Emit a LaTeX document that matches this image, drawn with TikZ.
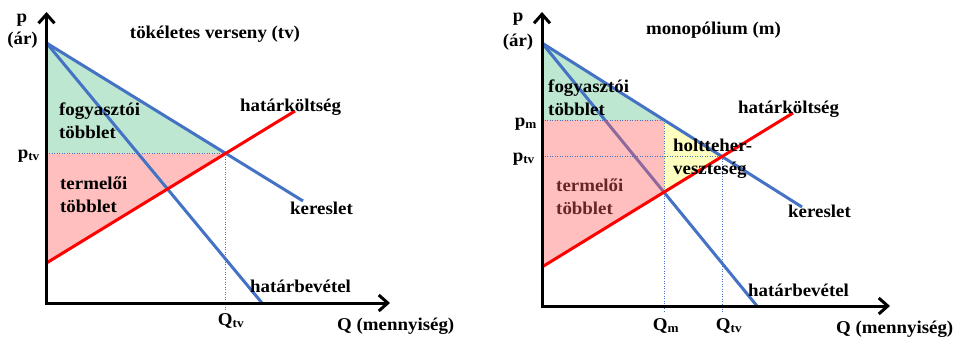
\documentclass[tikz,border=0pt]{standalone}
\usepackage{fontspec}
\setmainfont{Liberation Serif}[FakeStretch=1.05]
\usetikzlibrary{arrows.meta}
\definecolor{lblue}{HTML}{4472C4}
\definecolor{lred}{HTML}{FF0000}
\definecolor{cgreen}{HTML}{BDE7D0}
\definecolor{cpink}{HTML}{FFBFBF}
\definecolor{cpinkbase}{HTML}{FF6060}
\definecolor{cyellow}{HTML}{FFFFC0}
\begin{document}
\begin{tikzpicture}[x=1pt,y=-1pt,
  lbl/.style={font=\bfseries\fontsize{18}{21}\selectfont, inner sep=0pt, anchor=base west},
  lblc/.style={lbl, anchor=base},
  lble/.style={lbl, anchor=base east},
  axis/.style={line width=3pt, line join=miter, {Straight Barb[length=9pt,width=16pt]}-{Straight Barb[length=9pt,width=16pt]}},
  curveb/.style={lblue, line width=3pt},
  curver/.style={lred, line width=3pt},
  dotl/.style={lblue, line width=1pt, dash pattern=on 1pt off 1.5pt}]
\useasboundingbox (0,0) rectangle (957,337);
% ---------- left: perfect competition ----------
\coordinate (O1) at (46.5,303);
\coordinate (Y1) at (46.5,12);
\coordinate (X1) at (390,303);
\coordinate (D1a) at (46.5,43);
\coordinate (D1b) at (303,201);
\coordinate (MR1b) at (262,303);
\coordinate (MC1a) at (46.5,263);
\coordinate (MC1b) at (295,111);
\coordinate (E1) at (225.7,153.4);
\coordinate (P1) at (46.5,153.4);
\coordinate (Q1) at (225.7,310);
\fill[cgreen] (D1a) -- (E1) -- (P1) -- cycle;
\fill[cpink] (P1) -- (E1) -- (MC1a) -- cycle;
\draw[dotl] (P1) -- (E1) -- (Q1);
\draw[curveb] (D1a) -- (D1b);
\draw[curveb] (D1a) -- (MR1b);
\draw[curver] (MC1a) -- (MC1b);
\draw[axis] (Y1) -- (O1) -- (X1);
\node[lblc] (lp1) at (22,23) {p};
\node[lblc] (lar1) at (22.5,45) {(ár)};
\node[lblc] (t1) at (215,39) {tökéletes verseny (tv)};
\node[lbl] (fo1) at (59,115.5) {fogyasztói};
\node[lbl] (fo1b) at (59,138) {többlet};
\node[lbl] (te1) at (60,189) {termelői};
\node[lbl] (te1b) at (60,212) {többlet};
\node[lbl] (mc1) at (240,111) {határköltség};
\node[lbl] (ke1) at (290,214) {kereslet};
\node[lbl] (mr1) at (250,292) {határbevétel};
\node[lble] (ptv1) at (40,158) {p\textsubscript{tv}};
\node[lblc] (qtv1) at (231,325) {Q\textsubscript{tv}};
\node[lbl] (qq1) at (337,330) {Q (mennyiség)};
% ---------- right: monopoly ----------
\coordinate (O2) at (542,306);
\coordinate (Y2) at (542,12);
\coordinate (X2) at (890,306);
\coordinate (D2a) at (542,43);
\coordinate (D2b) at (802,207);
\coordinate (MR2b) at (757,306);
\coordinate (MC2a) at (542,267);
\coordinate (MC2b) at (793,113);
\coordinate (M2) at (664,120);
\coordinate (Mmc) at (664,192);
\coordinate (E2) at (722,156);
\coordinate (Pm2) at (542,120);
\coordinate (Pt2) at (542,156);
\coordinate (Qm2) at (664,312);
\coordinate (Qt2) at (722,312);
\fill[cgreen] (D2a) -- (M2) -- (Pm2) -- cycle;
\fill[cyellow] (M2) -- (E2) -- (Mmc) -- cycle;
\node[lbl] (te2) at (556,191) {termelői};
\node[lbl] (te2b) at (556,214) {többlet};
\draw[curveb] (D2a) -- (MR2b);
\fill[cpinkbase, opacity=0.4] (Pm2) -- (M2) -- (Mmc) -- (MC2a) -- cycle;
\draw[dotl] (Pm2) -- (M2) -- (Qm2);
\draw[dotl] (Pt2) -- (E2) -- (Qt2);
\draw[curveb] (D2a) -- (D2b);
\draw[curver] (MC2a) -- (MC2b);
\draw[axis] (Y2) -- (O2) -- (X2);
\node[lblc] (lp2) at (518,22) {p};
\node[lblc] (lar2) at (518,46) {(ár)};
\node[lblc] (t2) at (713.5,35) {monopólium (m)};
\node[lbl] (fo2) at (548,92) {fogyasztói};
\node[lbl] (fo2b) at (548,115) {többlet};
\node[lble] (pm2) at (537,126) {p\textsubscript{m}};
\node[lble] (ptv2) at (535,161) {p\textsubscript{tv}};
\node[lbl] (ho2) at (673,151) {holtteher-};
\node[lbl] (ho2b) at (673,174) {veszteség};
\node[lbl] (mc2) at (738,113) {határköltség};
\node[lbl] (ke2) at (788,217) {kereslet};
\node[lbl] (mr2) at (748,296) {határbevétel};
\node[lblc] (qm2) at (666,330) {Q\textsubscript{m}};
\node[lblc] (qtv2) at (729,330) {Q\textsubscript{tv}};
\node[lbl] (qq2) at (836,333) {Q (mennyiség)};
\end{tikzpicture}
\end{document}
